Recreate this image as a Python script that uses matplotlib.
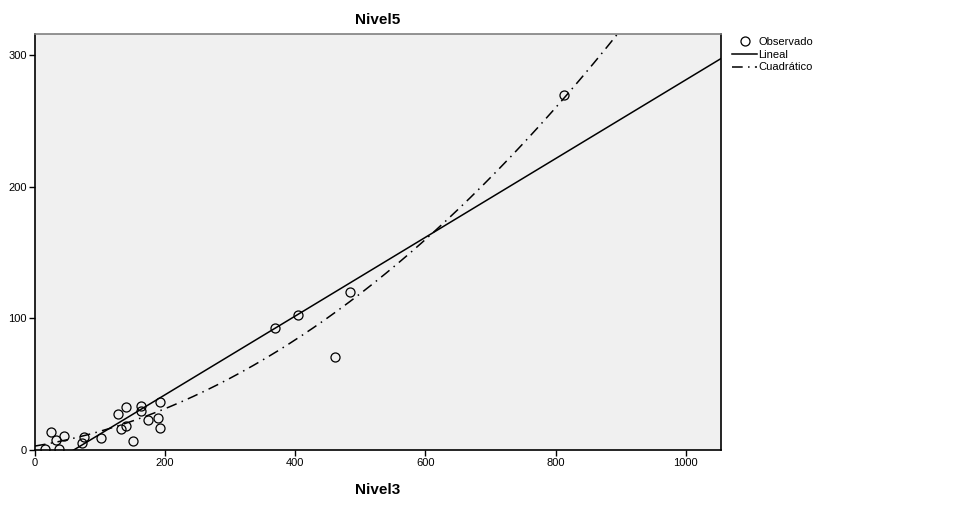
import numpy as np
import matplotlib
matplotlib.use('Agg')
import matplotlib.pyplot as plt

# === datos ===
nivel3 = [24.6, 32.3, 44.5, 15.4, 36.9, 75.3, 72.7, 101.4, 128.0, 140.2,
          131.6, 140.2, 162.4, 162.4, 150.0, 174.0, 192.0, 189.0, 192.0,
          368.7, 403.5, 483.9, 461.3, 813.0]
nivel5 = [13.7, 7.6, 10.7, 0.8, 0.5, 9.9, 5.1, 9.4, 27.6, 32.7,
          15.8, 18.5, 33.7, 29.5, 6.9, 22.6, 36.3, 24.6, 16.8,
          92.7, 102.8, 120.3, 70.6, 269.6]

# coeficientes de los ajustes (b0, b1, b2)
coef_lineal = [-17.8, 0.299]
coef_cuad = [3.0, 0.0823, 2.988e-4]

xticks = [0, 200, 400, 600, 800, 1000]
yticks = [0, 100, 200, 300]

plt.rcParams['font.family'] = ['Liberation Sans', 'DejaVu Sans']

fig = plt.figure(figsize=(9.63, 5.09), dpi=100)
ax = fig.add_axes([0.0363, 0.1159, 0.7124, 0.8173])
ax.set_facecolor('#F0F0F0')

xs = np.linspace(0, 1054, 400)
ax.plot(xs, coef_lineal[0] + coef_lineal[1] * xs, color='black', lw=1.1, label='Lineal')
ax.plot(xs, coef_cuad[0] + coef_cuad[1] * xs + coef_cuad[2] * xs ** 2,
        color='black', lw=1.1, linestyle=(0, (7, 3.5, 1, 3.5)), label='Cuadrático')
ax.plot(nivel3, nivel5, 'o', mfc='none', mec='black', ms=6.5, mew=0.9,
        label='Observado')

ax.set_xlim(0, 1054)
ax.set_ylim(0, 316)
ax.set_xticks(xticks)
ax.set_yticks(yticks)
ax.tick_params(direction='out', length=4, width=1, labelsize=8, pad=2)

for lado in ['left', 'bottom', 'right']:
    ax.spines[lado].set_color('black')
    ax.spines[lado].set_linewidth(1.2)
ax.spines['top'].set_color('#808080')
ax.spines['top'].set_linewidth(1.2)

ax.set_title('Nivel5', fontsize=11, fontweight='bold', pad=7.5)
ax.set_xlabel('Nivel3', fontsize=11, fontweight='bold', labelpad=10.5)

h, l = ax.get_legend_handles_labels()
orden = [2, 0, 1]
ax.legend([h[i] for i in orden], [l[i] for i in orden], loc='upper left',
          bbox_to_anchor=(1.007, 1.009), frameon=False, fontsize=8,
          handlelength=2.2, handletextpad=0.1, labelspacing=0.25,
          borderaxespad=0.2)

fig.savefig('out.png', dpi=100)
